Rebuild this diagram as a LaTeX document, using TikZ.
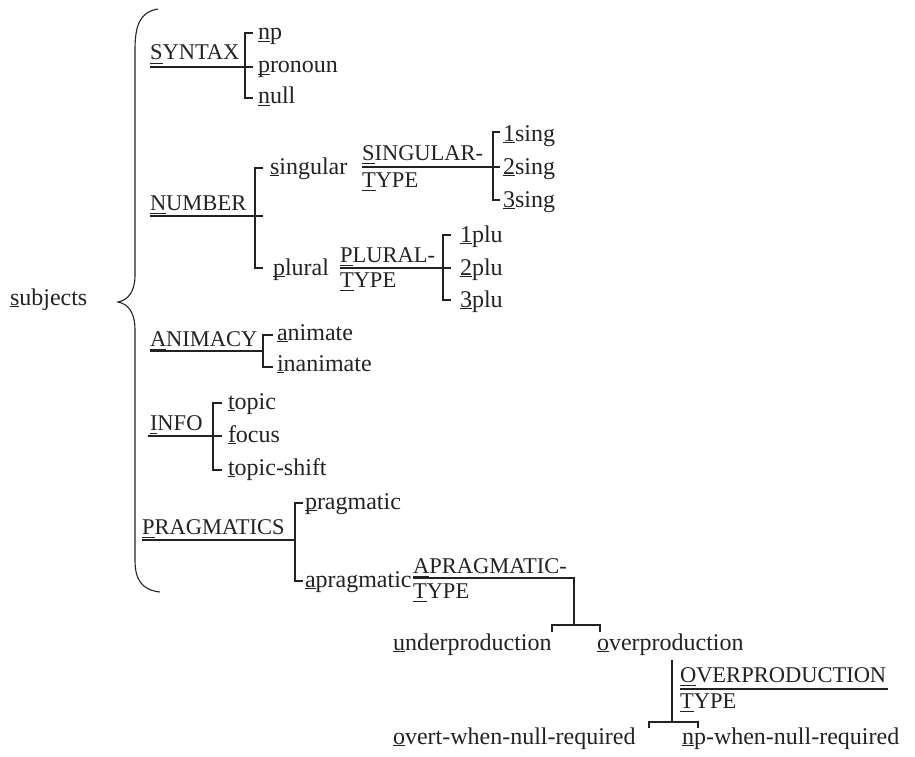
\documentclass[tikz,border=0pt]{standalone}
\usepackage{fontspec}
\setmainfont{Liberation Serif}
\definecolor{ink}{HTML}{222222}
\newcommand\fl[1]{\setbox0\hbox{#1}\rlap{\rule[-2pt]{\wd0}{1pt}}#1}
\newcommand\fc[1]{\setbox0\hbox{#1}\rlap{\rule[-3.6pt]{\wd0}{1pt}}#1}
\tikzset{
  lw/.style={font=\fontsize{24}{26}\selectfont, anchor=base west, inner sep=0pt, outer sep=0pt, text=ink},
  cp/.style={font=\fontsize{22.5}{24}\selectfont, anchor=base west, inner sep=0pt, outer sep=0pt, text=ink},
  ln/.style={draw=ink, line width=1.1pt, line join=miter}
}
\begin{document}
\begin{tikzpicture}[x=1pt,y=-1pt]
\useasboundingbox (0,0) rectangle (915,757);
% root
\node[lw] (subj) at (10,305) {\fl{s}ubjects};
\draw[ln] (158,9) .. controls (140,12) and (135,25) .. (135,50) -- (135,275)
  .. controls (135,292) and (128,300) .. (118,302)
  .. controls (128,304) and (135,312) .. (135,330) -- (135,560)
  .. controls (135,580) and (142,590) .. (160,592);
% SYNTAX
\node[cp] (syn) at (150,60) {\fc{S}YNTAX};
\node[lw] (np) at (258,40) {\fl{n}p};
\node[lw] (pron) at (258,73) {\fl{p}ronoun};
\node[lw] (null) at (258,104) {\fl{n}ull};
\coordinate (synA) at (150,67); \coordinate (synB) at (253,67);
\coordinate (synT) at (253,33); \coordinate (synTc) at (245,33);
\coordinate (synBc) at (245,98); \coordinate (synBt) at (253,98);
\draw[ln] (synA) -- (synB);
\draw[ln] (synT) -- (synTc) -- (synBc) -- (synBt);
% NUMBER
\node[cp] (num) at (150,210) {\fc{N}UMBER};
\node[lw] (sg) at (270,174) {\fl{s}ingular};
\node[lw] (pl) at (273,275) {\fl{p}lural};
\coordinate (numA) at (150,216); \coordinate (numB) at (263,216);
\coordinate (numT) at (263,168); \coordinate (numTc) at (255,168);
\coordinate (numBc) at (255,268); \coordinate (numBt) at (263,268);
\draw[ln] (numA) -- (numB);
\draw[ln] (numT) -- (numTc) -- (numBc) -- (numBt);
% SINGULAR-TYPE
\node[cp] (sgt1) at (362,160) {\fc{S}INGULAR-};
\node[cp] (sgt2) at (362,187) {\fc{T}YPE};
\node[lw] (s1) at (503,141) {\fl{1}sing};
\node[lw] (s2) at (503,174) {\fl{2}sing};
\node[lw] (s3) at (503,207) {\fl{3}sing};
\coordinate (sgA) at (362,167); \coordinate (sgB) at (500,167);
\coordinate (sgT) at (500,132); \coordinate (sgTc) at (493,132);
\coordinate (sgBc) at (493,200); \coordinate (sgBt) at (500,200);
\draw[ln] (sgA) -- (sgB);
\draw[ln] (sgT) -- (sgTc) -- (sgBc) -- (sgBt);
% PLURAL-TYPE
\node[cp] (plt1) at (340,262) {\fc{P}LURAL-};
\node[cp] (plt2) at (340,287) {\fc{T}YPE};
\node[lw] (p1) at (460,242) {\fl{1}plu};
\node[lw] (p2) at (460,275) {\fl{2}plu};
\node[lw] (p3) at (460,307) {\fl{3}plu};
\coordinate (plA) at (340,268); \coordinate (plB) at (451,268);
\coordinate (plT) at (451,235); \coordinate (plTc) at (443,235);
\coordinate (plBc) at (443,300); \coordinate (plBt) at (451,300);
\draw[ln] (plA) -- (plB);
\draw[ln] (plT) -- (plTc) -- (plBc) -- (plBt);
% ANIMACY
\node[cp] (anim) at (150,346) {\fc{A}NIMACY};
\node[lw] (an) at (277,340) {\fl{a}nimate};
\node[lw] (inan) at (277,371) {\fl{i}nanimate};
\coordinate (anA) at (150,351); \coordinate (anB) at (263,351);
\coordinate (anT) at (273,335); \coordinate (anTc) at (263,335);
\coordinate (anBc) at (263,367); \coordinate (anBt) at (273,367);
\draw[ln] (anA) -- (anB);
\draw[ln] (anT) -- (anTc) -- (anBc) -- (anBt);
% INFO
\node[cp] (info) at (150,430) {\fc{I}NFO};
\node[lw] (top) at (228,409) {\fl{t}opic};
\node[lw] (foc) at (228,442) {\fl{f}ocus};
\node[lw] (tsh) at (228,475) {\fl{t}opic-shift};
\coordinate (inA) at (148,436); \coordinate (inB) at (222,436);
\coordinate (inT) at (222,403); \coordinate (inTc) at (213,403);
\coordinate (inBc) at (213,470); \coordinate (inBt) at (222,470);
\draw[ln] (inA) -- (inB);
\draw[ln] (inT) -- (inTc) -- (inBc) -- (inBt);
% PRAGMATICS
\node[cp] (prag) at (142,534) {\fc{P}RAGMATICS};
\node[lw] (pr) at (305,509) {\fl{p}ragmatic};
\node[lw] (apr) at (305,587) {\fl{a}pragmatic};
\coordinate (prA) at (142,540); \coordinate (prB) at (295,540);
\coordinate (prT) at (303,503); \coordinate (prTc) at (295,503);
\coordinate (prBc) at (295,581); \coordinate (prBt) at (303,581);
\draw[ln] (prA) -- (prB);
\draw[ln] (prT) -- (prTc) -- (prBc) -- (prBt);
% APRAGMATIC-TYPE
\node[cp] (apt1) at (413,573) {\fc{A}PRAGMATIC-};
\node[cp] (apt2) at (413,598) {\fc{T}YPE};
\node[lw] (under) at (393,650) {\fl{u}nderproduction};
\node[lw] (over) at (597,650) {\fl{o}verproduction};
\coordinate (apA) at (413,578); \coordinate (apB) at (574,578);
\coordinate (apC) at (574,625);
\coordinate (apL) at (552,625); \coordinate (apLd) at (552,632);
\coordinate (apR) at (600,625); \coordinate (apRd) at (600,632);
\draw[ln] (apA) -- (apB) -- (apC);
\draw[ln] (apLd) -- (apL) -- (apR) -- (apRd);
% OVERPRODUCTION TYPE
\node[cp] (ovt1) at (680,682) {\fc{O}VERPRODUCTION};
\node[cp] (ovt2) at (680,708) {\fc{T}YPE};
\node[lw] (ownr) at (393,744) {\fl{o}vert-when-null-required};
\node[lw] (npnr) at (682,744) {\fl{n}p-when-null-required};
\coordinate (ovA) at (672,660); \coordinate (ovC) at (672,722);
\coordinate (ovU1) at (680,689); \coordinate (ovU2) at (888,689);
\coordinate (ovL) at (649,722); \coordinate (ovLd) at (649,728);
\coordinate (ovR) at (698,722); \coordinate (ovRd) at (698,728);
\draw[ln] (ovA) -- (ovC);
\draw[ln] (ovU1) -- (ovU2);
\draw[ln] (ovLd) -- (ovL) -- (ovR) -- (ovRd);
\end{tikzpicture}
\end{document}
